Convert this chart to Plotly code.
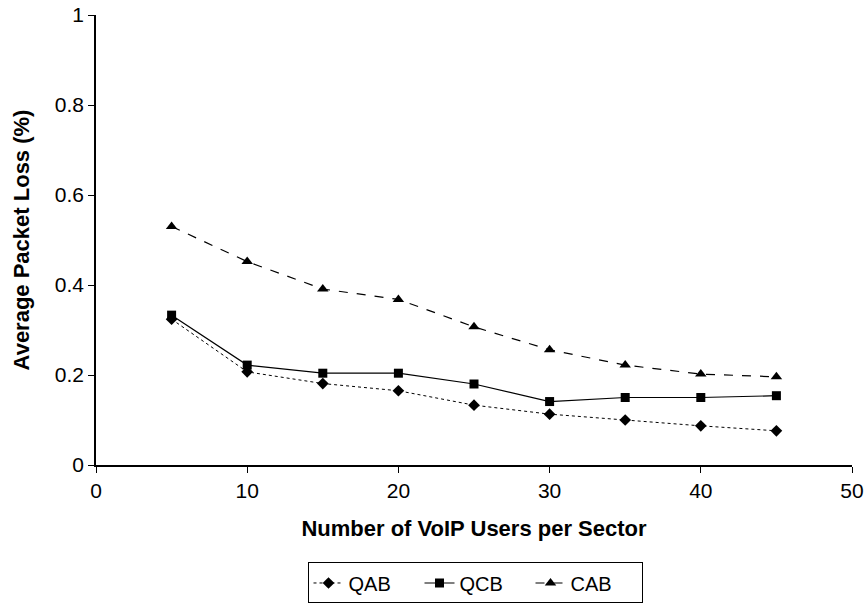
import plotly.graph_objects as go

users = [5, 10, 15, 20, 25, 30, 35, 40, 45]
qab = [0.324, 0.207, 0.181, 0.165, 0.133, 0.113, 0.100, 0.087, 0.076]
qcb = [0.333, 0.222, 0.204, 0.204, 0.180, 0.141, 0.150, 0.150, 0.154]
cab = [0.530, 0.452, 0.391, 0.368, 0.307, 0.256, 0.222, 0.202, 0.196]

font = "Liberation Sans, Arial, sans-serif"

fig = go.Figure()
fig.add_trace(go.Scatter(x=users, y=qab, name="QAB", mode="lines+markers",
                         line=dict(color="black", width=1, dash="dot"),
                         marker=dict(symbol="diamond", size=9, color="black")))
fig.add_trace(go.Scatter(x=users, y=qcb, name="QCB", mode="lines+markers",
                         line=dict(color="black", width=1.2),
                         marker=dict(symbol="square", size=9, color="black")))
fig.add_trace(go.Scatter(x=users, y=cab, name="CAB", mode="lines+markers",
                         line=dict(color="black", width=1.2, dash="dash"),
                         marker=dict(symbol="triangle-up", size=10, color="black")))

fig.update_layout(
    width=866, height=603,
    margin=dict(l=96, r=14, t=15, b=138),
    paper_bgcolor="white", plot_bgcolor="white",
    font=dict(family=font, size=21, color="black"),
    showlegend=True,
    legend=dict(orientation="h", xref="container", yref="container",
                x=0.5485, xanchor="center", y=0.0332, yanchor="middle",
                bordercolor="black", borderwidth=1, font=dict(size=20),
                itemwidth=30, tracegroupgap=0, entrywidth=66),
    xaxis=dict(range=[0, 50], tickvals=[0, 10, 20, 30, 40, 50], showgrid=False,
               zeroline=False, showline=True, linecolor="black", linewidth=1.5,
               ticks="outside", ticklen=6, tickcolor="black", automargin=False,
               tickfont=dict(size=21), ticklabeloverflow="allow",
               title=dict(text="<b>Number of VoIP Users per Sector</b>", font=dict(size=22), standoff=20)),
    yaxis=dict(range=[0, 1], tickvals=[0, 0.2, 0.4, 0.6, 0.8, 1],
               ticktext=["0", "0.2", "0.4", "0.6", "0.8", "1"], showgrid=False,
               zeroline=False, showline=True, linecolor="black", linewidth=1.5,
               ticks="outside", ticklen=6, tickcolor="black", automargin=False,
               tickfont=dict(size=21), ticklabeloverflow="allow",
               title=dict(text="<b>Average Packet Loss (%)</b>", font=dict(size=22), standoff=19)),
)

# remove the default 8px page margin so the figure sits at the window's corner
fig.write_html("out.html", config={"displayModeBar": False},
               post_script="document.body.style.margin='0';")
